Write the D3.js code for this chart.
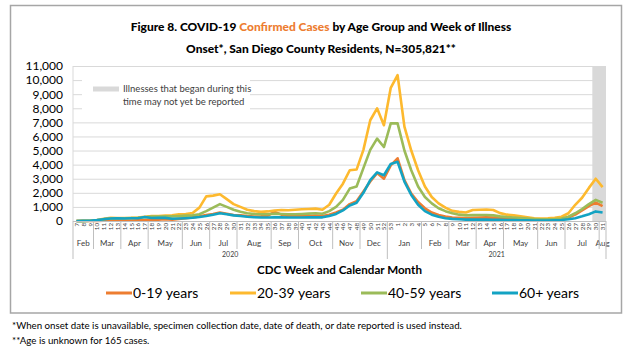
<!DOCTYPE html>
<html><head><meta charset="utf-8">
<script src="https://cdn.jsdelivr.net/npm/d3@7"></script>
<style>body{margin:0;background:#fff}svg{display:block}text{font-family:Lato,"Open Sans",sans-serif}</style>
</head><body><svg id="c" width="640" height="350"></svg>
<script>
const weekLabels = [7,8,9,10,11,12,13,14,15,16,17,18,19,20,21,22,23,24,25,26,27,28,29,30,31,32,33,34,35,36,37,38,39,40,41,42,43,44,45,46,47,48,49,50,51,52,
  53,1,2,3,4,5,6,7,8,9,10,11,12,13,14,15,16,17,18,19,20,21,22,23,24,25,26,27,28,29,30,31];
const monthLabels = ["Feb","Mar","Apr","May","Jun","Jul","Aug","Sep","Oct","Nov","Dec","Jan","Feb","Mar","Apr","May","Jun","Jul","Aug"];
const monthWeeks  = [3,4,4,5,4,4,5,4,5,4,4,5,4,4,4,5,4,5,1];
const yearLabels = ["2020","2021"];
const yearWeeks = [46,32];
const seriesNames = ["0-19 years","20-39 years","40-59 years","60+ years"];
const seriesColors = ["#ED7D31","#FDB92E","#9BBB59","#13A3C3"];
const age0_19 = [0,0,5,10,15,20,25,30,40,55,70,110,90,130,100,150,200,260,330,420,500,600,520,430,400,350,320,330,380,650,450,350,330,330,350,380,350,450,600,800,1200,1400,2100,2800,3400,3000,
  3950,4450,2900,1950,1350,900,600,420,320,250,220,200,230,240,260,240,210,180,160,140,120,100,90,90,100,140,250,450,750,1050,1300,1050];
const age20_39 = [5,10,20,70,160,220,210,210,220,250,300,350,360,380,400,470,500,560,950,1750,1800,1900,1550,1200,1000,800,700,650,680,750,780,760,800,830,850,880,800,1150,1950,2650,3600,3650,5050,7150,8000,6800,
  9450,10350,6700,5000,3600,2450,1700,1250,950,720,650,600,780,800,820,780,560,450,400,330,260,200,180,190,230,300,550,1150,1650,2350,3000,2400];
const age40_59 = [5,8,15,50,120,180,190,200,210,230,270,310,320,330,330,360,380,400,480,700,950,1200,1000,800,650,550,500,480,480,520,500,480,480,500,520,550,520,700,1000,1500,2300,2450,3750,5050,5850,5250,
  6930,6930,5000,3600,2450,1700,1250,900,700,550,450,400,420,430,430,400,330,280,250,210,170,140,120,120,140,180,300,550,850,1200,1500,1300];
const age60p = [5,8,15,60,130,180,190,180,190,200,290,210,230,220,160,180,200,230,280,350,450,550,480,400,350,300,270,250,250,270,260,250,250,250,260,270,260,350,500,750,1100,1300,2000,2900,3450,3250,
  4050,4200,2800,1850,1150,700,450,300,200,150,120,100,100,100,100,90,80,70,60,50,45,40,40,40,50,70,120,200,330,480,680,600];
const yTicks = [0,1000,2000,3000,4000,5000,6000,7000,8000,9000,10000,11000];
const shadedWeeks = 2;
const noteLines = ["Illnesses that began during this","time may not yet be reported"];
const footnotes = ["*When onset date is unavailable, specimen collection date, date of death, or date reported is used instead.","**Age is unknown for 165 cases."];

const svg = d3.select("#c");
const L = 73, R = 606, T = 66, B = 221;
const idx = d3.range(weekLabels.length);
const x = d3.scalePoint().domain(idx).range([L, R]).padding(0.5);
const step = x.step();
const y = d3.scaleLinear().domain([0, 11000]).range([B, T]);
const series = [age0_19, age20_39, age40_59, age60p];

function fit(sel, w){ const n = sel.node(); const cur = n.getComputedTextLength(); const fs = parseFloat(sel.attr("font-size")); sel.attr("font-size", fs*w/cur); return fs*w/cur; }

// frame
svg.append("rect").attr("x",10.5).attr("y",5.5).attr("width",611).attr("height",307.5).attr("fill","none").attr("stroke","#A6A6A6").attr("stroke-width",1.5);

// title
const t1 = svg.append("text").attr("x",321).attr("y",31).attr("text-anchor","middle").attr("font-weight","900").attr("font-size",16).attr("fill","#000");
t1.append("tspan").text("Figure 8. COVID-19 ");
t1.append("tspan").attr("fill","#ED7D31").text("Confirmed Cases");
t1.append("tspan").text(" by Age Group and Week of Illness");
const tfs = fit(t1, 381);
svg.append("text").attr("x",321).attr("y",53).attr("text-anchor","middle").attr("font-weight","900").attr("font-size",tfs).attr("fill","#000").text("Onset*, San Diego County Residents, N=305,821**");

// shading
svg.append("rect").attr("x", x(idx[idx.length-shadedWeeks]) - step/2).attr("y", T).attr("width", R - (x(idx[idx.length-shadedWeeks]) - step/2)).attr("height", B - T).attr("fill","#D9D9D9");

// gridlines
const yAxis = d3.axisLeft(y).tickValues(yTicks).tickSize(-(R-L)).tickFormat(d3.format(","));
const ga = svg.append("g").attr("transform",`translate(${L},0)`).call(yAxis);
ga.select(".domain").remove();
ga.selectAll(".tick line").attr("stroke","#D9D9D9").attr("stroke-width",1);
ga.selectAll(".tick text").attr("x",-10).attr("font-size",12).attr("fill","#000").style("font-family","Lato");
svg.append("line").attr("x1",L).attr("x2",L).attr("y1",T).attr("y2",B).attr("stroke","#D9D9D9");

// note box (white background)
svg.append("rect").attr("x",82).attr("y",75).attr("width",168).attr("height",38).attr("fill","#fff");
svg.append("rect").attr("x",93).attr("y",86.5).attr("width",26).attr("height",5).attr("fill","#D9D9D9");
noteLines.forEach((s,i)=>svg.append("text").attr("x",123).attr("y",92+i*13).attr("font-size",9.5).attr("fill","#404040").text(s));

// lines
const line = d3.line().x((d,i)=>x(i)).y(d=>y(d));
series.forEach((s,k)=>svg.append("path").datum(s).attr("d",line).attr("fill","none").attr("stroke",seriesColors[k]).attr("stroke-width",2.6).attr("stroke-linejoin","round"));

// x axis
svg.append("line").attr("x1",L).attr("x2",R).attr("y1",B+0.5).attr("y2",B+0.5).attr("stroke","#BFBFBF");
const xAxis = d3.axisBottom(x).tickSize(0).tickFormat(i=>weekLabels[i]);
const gx = svg.append("g").attr("transform",`translate(0,${B})`).call(xAxis);
gx.select(".domain").remove();
gx.selectAll(".tick text").attr("transform","rotate(-90)").attr("x",-2).attr("y",0).attr("dy","0.32em").attr("text-anchor","end").attr("font-size",6.2).attr("fill","#404040").style("font-family","Lato");

// month groups
let c = 0;
const bounds = [0];
monthWeeks.forEach((n,i)=>{
  const x0 = L + c*step, x1 = L + (c+n)*step;
  svg.append("text").attr("x",(x0+x1)/2).attr("y",246).attr("text-anchor","middle").attr("font-size",8).attr("fill","#404040").text(monthLabels[i]);
  c += n; bounds.push(c);
});
const yearB = [0]; yearWeeks.reduce((a,n)=>{yearB.push(a+n); return a+n;},0);
bounds.forEach(b=>{
  const long = yearB.includes(b);
  svg.append("line").attr("x1",L+b*step).attr("x2",L+b*step).attr("y1",B).attr("y2",long?259:249).attr("stroke","#BFBFBF");
});
let yc = 0;
yearWeeks.forEach((n,i)=>{
  svg.append("text").attr("x",L+(yc+n/2)*step).attr("y",257).attr("text-anchor","middle").attr("font-size",7).attr("fill","#404040").text(yearLabels[i]);
  yc += n;
});

// axis title
const at = svg.append("text").attr("x",(L+R)/2).attr("y",274).attr("text-anchor","middle").attr("font-weight","bold").attr("font-size",12.5).attr("fill","#000").text("CDC Week and Calendar Month");
fit(at,165);

// legend
const legX = [106,230,361,492];
seriesNames.forEach((s,k)=>{
  svg.append("line").attr("x1",legX[k]).attr("x2",legX[k]+26).attr("y1",293).attr("y2",293).attr("stroke",seriesColors[k]).attr("stroke-width",3);
  svg.append("text").attr("x",legX[k]+27).attr("y",298).attr("font-size",14).attr("fill","#000").text(s);
});

// footnotes
const f1 = svg.append("text").attr("x",12).attr("y",329).attr("font-size",10).attr("fill","#000").text(footnotes[0]);
const ffs = fit(f1, 450);
svg.append("text").attr("x",12).attr("y",344).attr("font-size",ffs).attr("fill","#000").text(footnotes[1]);
</script></body></html>
